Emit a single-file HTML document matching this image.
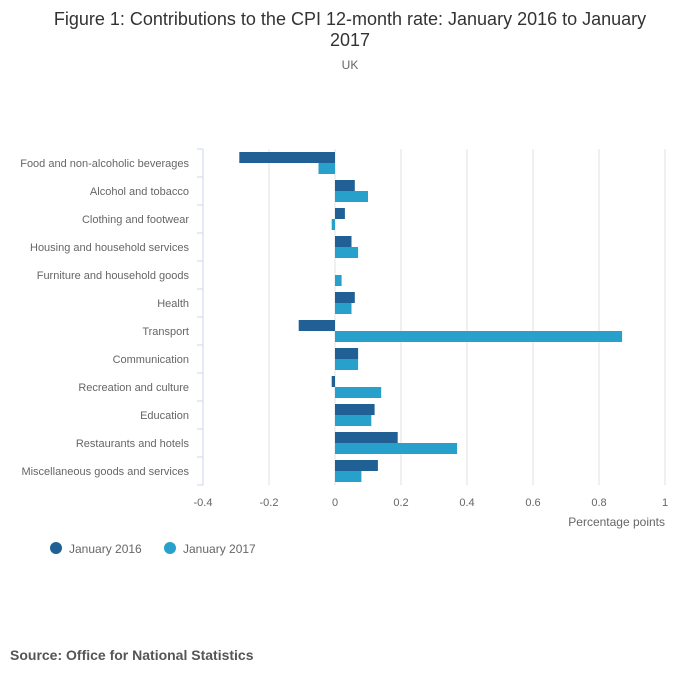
<!DOCTYPE html>
<html><head><meta charset="utf-8"><style>
body{margin:0;background:#fff;font-family:"Liberation Sans",sans-serif;}
#wrap{position:relative;width:700px;height:682px;overflow:hidden;}
</style></head><body>
<div id="wrap">
<svg id="chart" width="700" height="682">
<text x="350" y="25" text-anchor="middle" font-size="18" fill="#333">Figure 1: Contributions to the CPI 12-month rate: January 2016 to January</text>
<text x="350" y="46" text-anchor="middle" font-size="18" fill="#333">2017</text>
<text x="350" y="69" text-anchor="middle" font-size="12" fill="#666">UK</text>
<text x="665" y="526" text-anchor="end" font-size="12" fill="#666">Percentage points</text>
<circle cx="56" cy="548" r="6" fill="#206095"/>
<text x="69" y="553" font-size="12" fill="#666">January 2016</text>
<circle cx="170" cy="548" r="6" fill="#27a0cc"/>
<text x="183" y="553" font-size="12" fill="#666">January 2017</text>
<text x="10" y="660" font-size="14" font-weight="bold" fill="#555">Source: Office for National Statistics</text>
<g id="plot"></g>
</svg>
</div>
<script>
const categories=["Food and non-alcoholic beverages","Alcohol and tobacco","Clothing and footwear","Housing and household services","Furniture and household goods","Health","Transport","Communication","Recreation and culture","Education","Restaurants and hotels","Miscellaneous goods and services"];
const jan2016=[-0.29,0.06,0.03,0.05,0.0,0.06,-0.11,0.07,-0.01,0.12,0.19,0.13];
const jan2017=[-0.05,0.10,-0.01,0.07,0.02,0.05,0.87,0.07,0.14,0.11,0.37,0.08];
const xTicks=[-0.4,-0.2,0,0.2,0.4,0.6,0.8,1];
const xTickLabels=["-0.4","-0.2","0","0.2","0.4","0.6","0.8","1"];

const NS="http://www.w3.org/2000/svg";
const g=document.getElementById('plot');
const x0=203,x1=665,xmin=-0.4,xmax=1,plotTop=149,band=28;
const xs=v=>x0+(v-xmin)/(xmax-xmin)*(x1-x0);
const plotBottom=plotTop+band*categories.length;
function mk(t,a){const e=document.createElementNS(NS,t);for(const k in a)e.setAttribute(k,a[k]);g.appendChild(e);return e;}
xTicks.forEach((t,i)=>{
  if(i>0){const l=mk('line',{x1:xs(t),x2:xs(t),y1:plotTop,y2:plotBottom,stroke:'#e0e0e0','stroke-width':1});
  
  }
  const tx=mk('text',{x:xs(t),y:plotBottom+21,'text-anchor':'middle','font-size':11,fill:'#666'});
  tx.textContent=xTickLabels[i];
  
  
});
const ax=mk('line',{x1:x0,x2:x0,y1:plotTop,y2:plotBottom,stroke:'#ccd6eb','stroke-width':1});


for(let i=0;i<=categories.length;i++){
  const tk=mk('line',{x1:x0-6,x2:x0,y1:plotTop+i*band,y2:plotTop+i*band,stroke:'#ccd6eb','stroke-width':1});
  
  
}
categories.forEach((c,i)=>{
  const yc=plotTop+i*band+band/2;
  const t=mk('text',{x:189,y:yc+4,'text-anchor':'end','font-size':11,fill:'#666'});
  t.textContent=c;
  
  
  [[jan2016,'#206095',-11],[jan2017,'#27a0cc',0]].forEach(([arr,col,off],s)=>{
    const v=arr[i];const a=xs(Math.min(0,v)),b=xs(Math.max(0,v));
    const r=mk('rect',{x:a,y:yc+off,width:Math.max(0,b-a),height:11,fill:col});
    
    
  });
});
</script>
</body></html>
